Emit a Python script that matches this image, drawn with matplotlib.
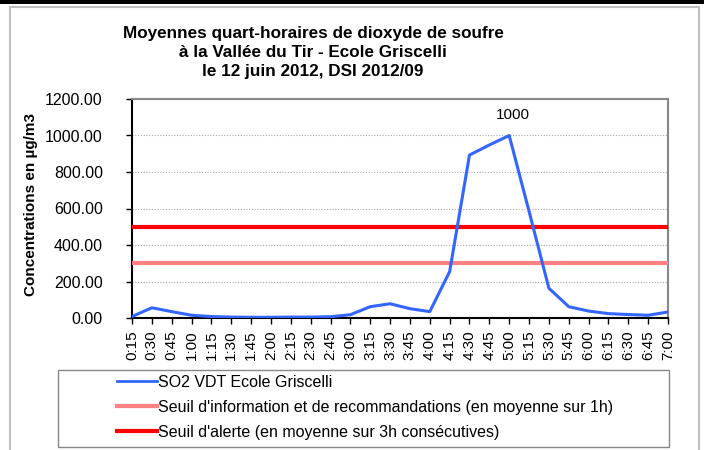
import matplotlib.pyplot as plt
from matplotlib.patches import Rectangle
from matplotlib.lines import Line2D

plt.rcParams['font.family'] = ['Liberation Sans', 'DejaVu Sans']

times = ["0:15", "0:30", "0:45", "1:00", "1:15", "1:30", "1:45", "2:00",
         "2:15", "2:30", "2:45", "3:00", "3:15", "3:30", "3:45", "4:00",
         "4:15", "4:30", "4:45", "5:00", "5:15", "5:30", "5:45", "6:00",
         "6:15", "6:30", "6:45", "7:00"]
so2 = [8, 56, 35, 15, 8, 5, 4, 4, 5, 5, 7, 18, 62, 78, 51, 35,
       254, 893, 948, 1000, 585, 163, 62, 38, 24, 19, 15, 33]
seuil_info = 300
seuil_alerte = 500
peak_label = "1000"

fig = plt.figure(figsize=(7.04, 4.5), dpi=100)

# outer frame like the excel export
fig.patches.append(Rectangle((10 / 704, -0.1), 689 / 704, 1.1 - 6.5 / 450,
                             transform=fig.transFigure, fill=False,
                             edgecolor="#c0c0c0", linewidth=1.5))
fig.patches.append(Rectangle((0, 1 - 4 / 450), 1, 4 / 450,
                             transform=fig.transFigure, facecolor="black",
                             edgecolor="none"))

ax = fig.add_axes([132 / 704, 1 - 318 / 450, 536 / 704, 219 / 450])

x = list(range(len(times)))
ax.plot(x, so2, color="#3366FF", linewidth=2.2, zorder=4)
ax.plot([x[0], x[-1]], [seuil_info] * 2, color="#FF8080", linewidth=3, zorder=3)
ax.plot([x[0], x[-1]], [seuil_alerte] * 2, color="#FF0000", linewidth=3, zorder=3)

ax.annotate(peak_label, (x[so2.index(max(so2))], max(so2)), xytext=(3, 15),
            textcoords="offset points", ha="center", va="center", fontsize=11)

ax.set_xlim(x[0], x[-1])
ax.set_ylim(0, 1200)
ax.set_yticks(range(0, 1201, 200))
ax.set_yticklabels(["%.2f" % v for v in range(0, 1201, 200)], fontsize=11.5)
ax.set_xticks(x)
ax.set_xticklabels(times, rotation=90, fontsize=11)
ax.tick_params(axis="both", length=4, width=1, color="black")
ax.tick_params(axis="y", pad=17)
ax.tick_params(axis="x", pad=5)
ax.yaxis.grid(True, linestyle=(0, (1, 1.5)), color="#aaaaaa", linewidth=0.8)
ax.set_axisbelow(True)
for side in ["top", "right"]:
    ax.spines[side].set_color("#888888")
    ax.spines[side].set_linewidth(1.5)
for side in ["left", "bottom"]:
    ax.spines[side].set_color("black")
    ax.spines[side].set_linewidth(1.5)

ax.set_ylabel("Concentrations en µg/m3", fontsize=11, fontweight="bold")
ax.yaxis.set_label_coords(-0.175, 0.52)

fig.text(313 / 704, 1 - 52.5 / 450,
         "Moyennes quart-horaires de dioxyde de soufre\n"
         "à la Vallée du Tir - Ecole Griscelli\n"
         "le 12 juin 2012, DSI 2012/09",
         ha="center", va="center", fontsize=12.3, fontweight="bold",
         linespacing=1.33)

# legend box
fig.patches.append(Rectangle((58 / 704, 1 - 447 / 450), 611 / 704, 77 / 450,
                             transform=fig.transFigure, fill=False,
                             edgecolor="#888888", linewidth=1))
handles = [Line2D([], [], color="#3366FF", linewidth=2),
           Line2D([], [], color="#FF8080", linewidth=3),
           Line2D([], [], color="#FF0000", linewidth=3)]
labels = ["SO2 VDT Ecole Griscelli",
          "Seuil d'information et de recommandations (en moyenne sur 1h)",
          "Seuil d'alerte (en moyenne sur 3h consécutives)"]
fig.legend(handles, labels, loc="upper left",
           bbox_to_anchor=(117 / 704, 1 - 375 / 450), frameon=False,
           fontsize=11.5, handlelength=2.5, handletextpad=0.05,
           labelspacing=0.62, borderpad=0, borderaxespad=0)

fig.savefig("out.png", dpi=100)
